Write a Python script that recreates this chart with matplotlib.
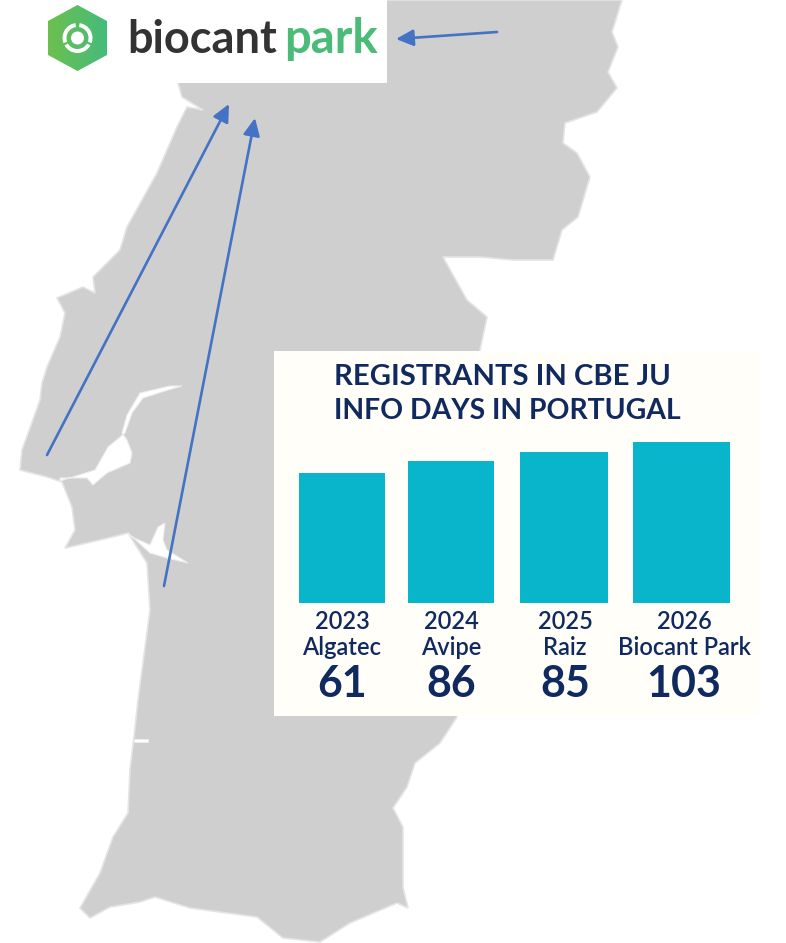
import numpy as np
from matplotlib import pyplot as plt
from matplotlib.colors import LinearSegmentedColormap
from matplotlib.patches import Circle, Polygon, Rectangle, Wedge

years = ["2023", "2024", "2025", "2026"]
hosts = ["Algatec", "Avipe", "Raiz", "Biocant Park"]
registrants = [61, 86, 85, 103]
# bars in the picture are not to scale with the labels, heights read off in px
bar_heights = [130.6, 142.3, 151.6, 161.3]
title_lines = ["REGISTRANTS IN CBE JU", "INFO DAYS IN PORTUGAL"]

# outline of the map, clockwise from the top right
map_x = [622, 612, 618, 608, 617, 597, 565, 563, 577, 590, 578, 562, 553, 513, 480, 443, 467, 487, 480,
         470, 462, 457, 440, 415, 407, 393, 403, 403, 408, 397, 350, 320, 283, 257, 190, 155, 140, 110,
         90, 80, 100, 113, 128, 130, 134, 138, 150, 147, 128, 100, 65, 75, 72, 62, 47, 20, 22, 40, 42,
         47, 60, 65, 57, 83, 95, 93, 120, 127, 157, 177, 187, 203, 182, 178, 178, 622]
map_y = [0, 32, 47, 72, 88, 112, 123, 143, 153, 177, 217, 230, 260, 260, 257, 257, 300, 317, 350,
         450, 600, 717, 743, 763, 787, 808, 827, 887, 908, 903, 923, 942, 938, 917, 908, 897, 902, 907,
         918, 908, 873, 837, 813, 770, 737, 700, 610, 563, 533, 540, 548, 530, 507, 482, 477, 470, 450,
         400, 383, 367, 337, 313, 298, 287, 293, 277, 250, 227, 173, 127, 107, 110, 97, 83, 0, 0]
tagus_x = [60, 87, 93, 107, 130, 132, 127, 122, 127, 140, 170, 182, 168, 143, 132, 125, 108, 95, 60]
tagus_y = [478, 478, 485, 473, 463, 453, 440, 433, 415, 393, 386, 386, 390, 398, 413, 433, 447, 470, 481]
sado_x = [128, 150, 167, 188, 167, 163, 165, 158, 150, 130]
sado_y = [533, 553, 558, 563, 550, 540, 523, 527, 545, 536]
notch_x = [134, 148, 148, 134]
notch_y = [739, 739, 742, 742]
hex_x = [77.5, 107, 107, 77.5, 48, 48]
hex_y = [5, 21, 55, 71, 55, 21]

GREY = "#cfcfcf"
NAVY = "#10295f"
BLUE = "#4472c4"
FONT = "Lato"

fig = plt.figure(figsize=(7.86, 9.43), dpi=100, facecolor="white")
ax = fig.add_axes([0, 0, 1, 1])

# light edge stands in for the soft edge of the scaled map image
ax.add_patch(Polygon(np.column_stack([map_x, map_y]), closed=True, fc=GREY, ec="#e4e4e4", lw=1.2))
for px, py in [(tagus_x, tagus_y), (sado_x, sado_y), (notch_x, notch_y)]:
    ax.add_patch(Polygon(np.column_stack([px, py]), closed=True, fc="white", ec="#ececec", lw=0.8))

# logo block
ax.add_patch(Rectangle((0, 0), 387, 83, fc="white", ec="none", zorder=2))
cmap = LinearSegmentedColormap.from_list("logo", ["#6cc04f", "#45bb7b"])
grad = ax.imshow(np.linspace(0, 1, 64).reshape(1, -1), extent=(48, 107, 71, 5), cmap=cmap,
                 aspect="auto", zorder=3)
hex_patch = Polygon(np.column_stack([hex_x, hex_y]), closed=True, fc="none", ec="none",
                    transform=ax.transData)
ax.add_patch(hex_patch)
grad.set_clip_path(hex_patch)
ax.add_patch(Circle((77.5, 38), 6.5, fc="white", ec="none", zorder=4))
for a1, a2 in [(30, 150), (160, 262), (-82, 20)]:
    ax.add_patch(Wedge((77.5, 38), 15, a1, a2, width=4, fc="white", ec="none", zorder=4))
ax.text(127, 53, "biocant", fontsize=32.5, family=FONT, weight="bold", color="#333333",
        ha="left", va="baseline", zorder=4)
ax.text(284, 53, "park", fontsize=34, family=FONT, weight="bold", color="#4bbb78",
        ha="left", va="baseline", zorder=4)

arrows = [((47, 455), (229, 104)), ((164, 586), (255, 118)), ((497, 32), (396, 39))]
for start, end in arrows:
    ax.annotate("", xy=end, xytext=start, zorder=5,
                arrowprops=dict(arrowstyle="-|>,head_length=1.05,head_width=0.5", color=BLUE, lw=1.9,
                                shrinkA=0, shrinkB=0))

ax.set_xlim(0, 786)
ax.set_ylim(943, 0)
ax.axis("off")

# chart panel, y units are px above the bar baseline
panel = fig.add_axes([274 / 786, 1 - 716 / 943, 486 / 786, 365 / 943], facecolor="#fffef8")
panel.set_xlim(274, 760)
panel.set_ylim(-112.7, 252.3)
panel.set_xticks([])
panel.set_yticks([])
for spine in panel.spines.values():
    spine.set_visible(False)

bar_left = [299.3, 407.7, 520, 633]
bar_width = [85.4, 86.3, 88, 97]
label_x = [342, 451.5, 565, 684]
panel.bar(bar_left, bar_heights, width=bar_width, align="edge", color="#08b5ca")

# first title line runs wider in the picture than Lato gives at one size
for i, (line, size) in enumerate(zip(title_lines, [21.1, 20.4])):
    panel.text(334, 226 - 34 * i, line, fontsize=size, family=FONT, weight="bold", color=NAVY,
               ha="left", va="center")
for x, year, host, value in zip(label_x, years, hosts, registrants):
    panel.text(x, -18.5, year, fontsize=17, family=FONT, weight="semibold", color=NAVY, ha="center", va="center")
    panel.text(x, -44.5, host, fontsize=17, family=FONT, weight="semibold", color=NAVY, ha="center", va="center")
    panel.text(x, -81, str(value), fontsize=31, family=FONT, weight="bold", color=NAVY, ha="center", va="center")

fig.savefig("out.png", dpi=100)
